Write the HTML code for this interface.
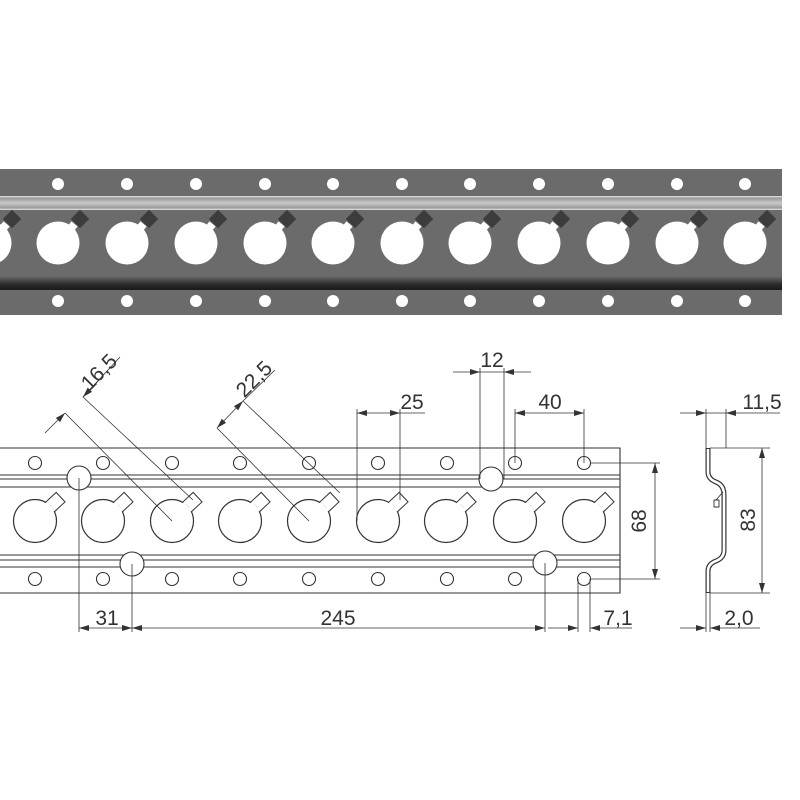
<!DOCTYPE html>
<html><head><meta charset="utf-8"><style>body{margin:0;background:#fff}svg{display:block}text{font-family:"Liberation Sans",sans-serif;fill:#333}</style></head><body>
<svg width="800" height="800" viewBox="0 0 800 800" xmlns="http://www.w3.org/2000/svg">
<defs>
<linearGradient id="gr" x1="0" y1="0" x2="0" y2="1"><stop offset="0" stop-color="#e8e8e8"/><stop offset="0.15" stop-color="#9a9a9a"/><stop offset="0.5" stop-color="#c8c8c8"/><stop offset="0.85" stop-color="#9a9a9a"/><stop offset="1" stop-color="#e8e8e8"/></linearGradient>
<linearGradient id="sh" x1="0" y1="0" x2="0" y2="1"><stop offset="0" stop-color="#6b6b6b"/><stop offset="0.6" stop-color="#2a2a2a"/><stop offset="1" stop-color="#1a1a1a"/></linearGradient>
<g id="ph"><g transform="translate(22,-24) rotate(-45)"><rect x="-6.5" y="-6.5" width="13" height="13" fill="#3c3c3c"/></g><rect x="-4" y="-4" width="8" height="10" fill="#fff" transform="translate(14,-16) rotate(40)"/><circle r="21.5" fill="#fff"/></g>
<g id="dh"><g transform="rotate(-43)"><rect x="20" y="-6.5" width="15" height="13" fill="#fff" stroke="#333" stroke-width="1"/></g><circle r="21.5" fill="#fff" stroke="#333" stroke-width="1.2"/><g transform="rotate(-43)"><rect x="18" y="-5.8" width="4" height="11.6" fill="#fff"/></g></g>
<marker id="a" viewBox="0 0 10 6" refX="10" refY="3" markerWidth="10" markerHeight="6" orient="auto-start-reverse" markerUnits="userSpaceOnUse"><path d="M0,0L10,3L0,6z" fill="#333"/></marker>
</defs>
<rect x="0" y="169" width="782" height="146" fill="#6b6b6b"/>
<rect x="0" y="196" width="782" height="14" fill="url(#gr)"/>
<rect x="0" y="276" width="782" height="14" fill="url(#sh)"/>
<g fill="#fff">
<g id="prow">
<circle cx="58" cy="184" r="6"/><circle cx="127" cy="184" r="6"/><circle cx="196" cy="184" r="6"/><circle cx="265" cy="184" r="6"/><circle cx="333" cy="184" r="6"/><circle cx="402" cy="184" r="6"/><circle cx="470" cy="184" r="6"/><circle cx="539" cy="184" r="6"/><circle cx="608" cy="184" r="6"/><circle cx="677" cy="184" r="6"/><circle cx="745" cy="184" r="6"/>
</g>
<use href="#prow" y="117"/>
</g>
<use href="#ph" x="-10" y="243"/><use href="#ph" x="58" y="243"/><use href="#ph" x="127" y="243"/><use href="#ph" x="196" y="243"/><use href="#ph" x="265" y="243"/><use href="#ph" x="333" y="243"/><use href="#ph" x="402" y="243"/><use href="#ph" x="470" y="243"/><use href="#ph" x="539" y="243"/><use href="#ph" x="608" y="243"/><use href="#ph" x="677" y="243"/><use href="#ph" x="745" y="243"/>
<g stroke="#333" fill="none" stroke-width="1.1">
<path d="M0,448H620V593H0"/>
<path d="M0,475H620M0,479H620M0,487H620M0,555H620M0,560H620M0,567H620"/>
</g>
<g fill="#fff" stroke="#333" stroke-width="1.1">
<g id="drow"><circle cx="35" cy="463" r="6.5"/><circle cx="103" cy="463" r="6.5"/><circle cx="172" cy="463" r="6.5"/><circle cx="240" cy="463" r="6.5"/><circle cx="309" cy="463" r="6.5"/><circle cx="378" cy="463" r="6.5"/><circle cx="447" cy="463" r="6.5"/><circle cx="515" cy="463" r="6.5"/><circle cx="584" cy="463" r="6.5"/></g>
<use href="#drow" y="116"/>
</g>
<use href="#dh" x="35" y="521"/><use href="#dh" x="103" y="521"/><use href="#dh" x="172" y="521"/><use href="#dh" x="240" y="521"/><use href="#dh" x="309" y="521"/><use href="#dh" x="378" y="521"/><use href="#dh" x="446" y="521"/><use href="#dh" x="515" y="521"/><use href="#dh" x="584" y="521"/>
<g fill="#fff" stroke="#333" stroke-width="1.1">
<circle cx="79" cy="478" r="12"/><circle cx="132" cy="564" r="12"/><circle cx="491" cy="479" r="12"/><circle cx="545" cy="563" r="12"/>
</g>
<g stroke="#333" stroke-width="0.8" fill="none">
<path d="M79,478V632M132,564V632M545,563V632M578,579V632M590,579V632"/>
<path d="M79,628H132" marker-start="url(#a)" marker-end="url(#a)"/>
<path d="M132,628H545" marker-start="url(#a)" marker-end="url(#a)"/>
<path d="M548,628H578" marker-end="url(#a)"/><path d="M632,628H590" marker-end="url(#a)"/>
<path d="M590,463H660M590,579H660"/>
<path d="M655,463V579" marker-start="url(#a)" marker-end="url(#a)"/>
<path d="M480,368V479M504,368V479"/>
<path d="M453,372H480" marker-end="url(#a)"/><path d="M531,372H504" marker-end="url(#a)"/><path d="M480,372H504"/>
<path d="M515,409V463M584,409V463"/>
<path d="M515,413H584" marker-start="url(#a)" marker-end="url(#a)"/>
<path d="M357,409V521M400,409V500"/>
<path d="M357,413H400" marker-start="url(#a)" marker-end="url(#a)"/><path d="M400,413H425"/>
<path d="M65,413L172,521M83,397L193,500"/>
<path d="M45,433L65,413" marker-end="url(#a)"/>
<path d="M83,397L120,357"/><path d="M100,379L83,397" marker-end="url(#a)"/>
<path d="M217,428L309,521M243,401L340,493"/>
<path d="M217,428L243,401" marker-start="url(#a)" marker-end="url(#a)"/><path d="M243,401L275,370"/>
<path d="M706,409V448M726,409V448"/>
<path d="M680,413H706" marker-end="url(#a)"/><path d="M780,413H726" marker-end="url(#a)"/><path d="M706,413H726"/>
<path d="M710,448H770M710,593H770"/>
<path d="M762,448V593" marker-start="url(#a)" marker-end="url(#a)"/>
<path d="M706,593V632M710,593V632"/>
<path d="M680,628H706" marker-end="url(#a)"/><path d="M760,628H710" marker-end="url(#a)"/>
</g>
<g fill="none" stroke-linejoin="round">
<path d="M708,448V472Q708,479 716,482Q724,485 724,495V550Q724,558 716,561Q708,564 708,571V593" stroke="#333" stroke-width="5"/>
<path d="M708,449V472Q708,479 716,482Q724,485 724,495V550Q724,558 716,561Q708,564 708,571V592" stroke="#fff" stroke-width="2.6"/>
<path d="M716,500L723,492M714,500H719V507H714Z" stroke="#333" stroke-width="0.9"/>
</g>
<g font-size="21">
<text x="107" y="625" text-anchor="middle">31</text>
<text x="338" y="625" text-anchor="middle">245</text>
<text x="618" y="625" text-anchor="middle">7,1</text>
<text x="492" y="367" text-anchor="middle">12</text>
<text x="550" y="409" text-anchor="middle">40</text>
<text x="412" y="409" text-anchor="middle">25</text>
<text x="762" y="409" text-anchor="middle">11,5</text>
<text x="739" y="625" text-anchor="middle">2,0</text>
<text transform="translate(646,521) rotate(-90)" text-anchor="middle">68</text>
<text transform="translate(755,520) rotate(-90)" text-anchor="middle">83</text>
<text transform="translate(104,377) rotate(-45)" text-anchor="middle">16,5</text>
<text transform="translate(259,384) rotate(-45)" text-anchor="middle">22,5</text>
</g>
</svg>
</body></html>
